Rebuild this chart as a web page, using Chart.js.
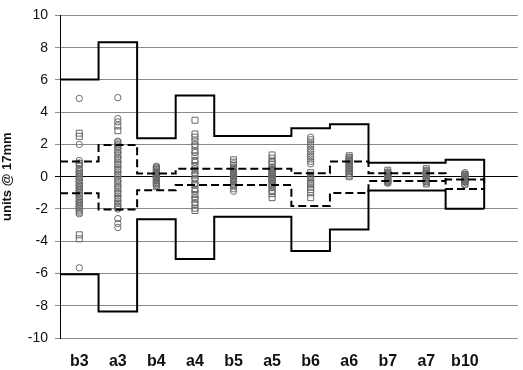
<!DOCTYPE html>
<html>
<head>
<meta charset="utf-8">
<script src="https://cdn.jsdelivr.net/npm/chart.js@4.4.1/dist/chart.umd.min.js"></script>
<style>
  html, body { margin: 0; padding: 0; background: #fff; }
  #wrap { width: 523px; height: 370px; }
</style>
</head>
<body>
<div id="wrap"><canvas id="chart"></canvas></div>
<script>
const categories = ['b3', 'a3', 'b4', 'a4', 'b5', 'a5', 'b6', 'a6', 'b7', 'a7', 'b10'];

// solid outer limits per category
const outerHigh = [6.02, 8.33, 2.38, 5.04, 2.52, 2.52, 3.0, 3.25, 0.86, 0.86, 1.05];
const outerLow = [-6.05, -8.36, -2.64, -5.1, -2.49, -2.49, -4.61, -3.27, -0.86, -0.86, -1.98];

// dashed inner limits per category
const innerHigh = [0.95, 1.97, 0.2, 0.49, 0.49, 0.49, 0.21, 0.94, 0.21, 0.21, -0.17];
const innerLow = [-1.02, -2.04, -0.84, -0.52, -0.52, -0.52, -1.81, -1.01, -0.26, -0.26, -0.77];

// measurements (circles / squares), one list per category
const circles = [
  [4.85, 2.0, 1.0, 0.85, 0.7, 0.5, 0.3, 0.1, -0.1, -0.3, -0.5, -0.7, -0.9, -1.1, -1.3, -1.5, -1.7, -1.9, -2.1, -2.3, -5.65],
  [4.9, 3.6, 3.4, 2.2, 2.0, 1.8, 1.5, 1.2, 0.9, 0.6, 0.3, 0.0, -0.3, -0.6, -0.9, -1.2, -1.5, -1.8, -2.0, -2.6, -2.9, -3.15],
  [0.65, 0.55, 0.45, 0.35, 0.25, 0.15, 0.05, -0.05, -0.15, -0.25, -0.35, -0.45, -0.55],
  [2.0, 1.5, 0.9, 0.5, 0.2, -0.1, -0.4, -0.9, -1.3, -1.6],
  [0.8, 0.6, 0.45, 0.3, 0.2, 0.1, 0.0, -0.1, -0.2, -0.3, -0.45, -0.6, -0.75, -0.9],
  [0.9, 0.6, 0.4, 0.3, 0.2, 0.1, 0.0, -0.1, -0.2, -0.3, -0.45, -0.6, -0.9],
  [2.45, 2.3, 2.15, 2.0, 1.85, 1.7, 1.55, 1.4, 1.25, 1.1, 0.95, 0.8],
  [1.1, 0.95, 0.8, 0.65, 0.5, 0.35, 0.2],
  [0.3, 0.2, 0.1, 0.0, -0.1, -0.2, -0.3, -0.4],
  [0.35, 0.25, 0.15, 0.05, -0.05, -0.15, -0.25, -0.4],
  [0.25, 0.15, 0.1, 0.0, -0.05, -0.15, -0.2, -0.3, -0.35, -0.5]
];
const squares = [
  [2.7, 2.5, 0.8, 0.4, 0.2, 0.0, -0.2, -0.4, -0.6, -0.8, -1.0, -1.2, -1.4, -1.6, -1.8, -2.0, -2.2, -3.6, -3.85],
  [3.15, 2.85, 2.1, 1.9, 1.65, 1.35, 1.05, 0.75, 0.45, 0.15, -0.15, -0.45, -0.75, -1.05, -1.35, -1.65, -1.9],
  [0.55, 0.45, 0.35, 0.25, 0.15, 0.05, -0.05, -0.15, -0.25, -0.35, -0.45, -0.62],
  [3.5, 2.65, 2.45, 2.2, 1.9, 1.6, 1.3, 1.0, 0.7, 0.4, 0.1, -0.2, -0.5, -0.8, -1.1, -1.4, -1.7, -1.95, -2.1],
  [1.05, 0.9, 0.7, 0.5, 0.4, 0.3, 0.2, 0.1, 0.0, -0.1, -0.2, -0.3, -0.5],
  [1.35, 1.15, 0.95, 0.75, 0.55, 0.45, 0.35, 0.25, 0.15, 0.05, -0.05, -0.15, -0.25, -0.45, -0.65, -0.85, -1.05, -1.3],
  [0.25, 0.1, -0.05, -0.2, -0.35, -0.5, -0.65, -0.8, -1.0, -1.3],
  [1.3, 1.2, 1.1, 1.0, 0.9, 0.8, 0.7, 0.6, 0.5, 0.4, 0.3, 0.2, 0.1, 0.0],
  [0.4, 0.25, 0.15, 0.05, -0.05, -0.15, -0.25, -0.35],
  [0.5, 0.4, 0.3, 0.2, 0.1, 0.0, -0.1, -0.2, -0.3, -0.45],
  [0.15, 0.05, 0.0, -0.1, -0.15, -0.25, -0.3, -0.45]
];

const n = categories.length;

// step line over category edges, closed at the right end
function steps(high, low) {
  const pts = high.map((v, i) => ({ x: i + 0.5, y: v }));
  pts.push({ x: n + 0.5, y: high[n - 1] });
  pts.push({ x: n + 0.5, y: low[n - 1] });
  return pts;
}
function stepsLow(low) {
  const pts = low.map((v, i) => ({ x: i + 0.5, y: v }));
  pts.push({ x: n + 0.5, y: low[n - 1] });
  return pts;
}
function cloud(lists) {
  return lists.flatMap((vals, i) => vals.map(v => ({ x: i + 1, y: v })));
}

const lineStyle = { showLine: true, stepped: 'before', borderColor: '#000', borderWidth: 2, pointRadius: 0, fill: false };
const FONT = 'Arial, "Liberation Sans", sans-serif';

new Chart(document.getElementById('chart'), {
  type: 'scatter',
  data: {
    datasets: [
      { ...lineStyle, data: steps(outerHigh, outerLow) },
      { ...lineStyle, data: stepsLow(outerLow) },
      { ...lineStyle, borderDash: [8, 4], data: steps(innerHigh, innerLow) },
      { ...lineStyle, borderDash: [8, 4], data: stepsLow(innerLow) },
      { data: cloud(squares), pointStyle: 'rect', pointRadius: 4.2, borderColor: '#6a6a6a', borderWidth: 1, backgroundColor: 'rgba(255,255,255,0)' },
      { data: cloud(circles), pointStyle: 'circle', pointRadius: 3.2, borderColor: '#6a6a6a', borderWidth: 1, backgroundColor: 'rgba(255,255,255,0)' }
    ]
  },
  options: {
    responsive: true,
    maintainAspectRatio: false,
    animation: false,
    layout: { padding: { top: 7, right: 0, left: 0, bottom: 0 } },
    plugins: { legend: { display: false }, tooltip: { enabled: false } },
    scales: {
      x: {
        type: 'linear',
        min: 0.5,
        max: 0.5 + 463 / 39,
        afterBuildTicks: s => { s.ticks = categories.map((c, i) => ({ value: i + 1 })); },
        afterFit: s => { s.height = 32; },
        grid: { display: false },
        border: { display: false },
        ticks: {
          autoSkip: false, maxRotation: 0, padding: 6, color: '#111',
          font: { family: FONT, size: 16, weight: 'bold' },
          callback: v => categories[v - 1]
        }
      },
      y: {
        min: -10,
        max: 10,
        afterFit: s => { s.width = 60; },
        ticks: { stepSize: 2, padding: 7, color: '#111', font: { family: FONT, size: 14 } },
        grid: {
          tickLength: 5,
          color: c => c.tick && c.tick.value === 0 ? '#000' : '#8a8a8a'
        },
        border: { color: '#000', width: 1 },
        title: { display: true, text: 'units @ 17mm', color: '#111', font: { family: FONT, size: 13, weight: 'bold' }, padding: 0 }
      }
    }
  }
});
</script>
</body>
</html>
